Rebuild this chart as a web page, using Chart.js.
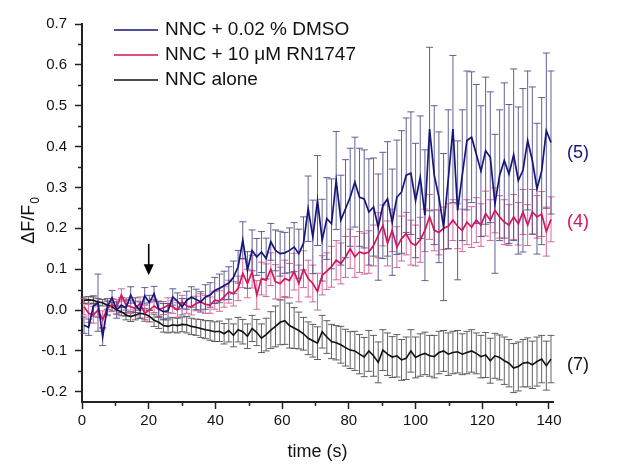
<!DOCTYPE html>
<html>
<head>
<meta charset="utf-8">
<script src="https://cdn.jsdelivr.net/npm/chart.js@4.4.1/dist/chart.umd.min.js"></script>
<style>
html, body { margin: 0; padding: 0; background: #fff; }
canvas { display: block; }
</style>
</head>
<body>
<canvas id="chart" width="617" height="467"></canvas>
<script>
// sample times (s)
const times = [
    0.6, 2.0, 3.4, 4.8, 6.2, 7.6, 9.0, 10.4, 11.8, 13.2,
    14.6, 16.0, 17.4, 18.8, 20.2, 21.6, 23.0, 24.4, 25.8, 27.2,
    28.6, 30.0, 31.4, 32.8, 34.2, 35.6, 37.0, 38.4, 39.8, 41.2,
    42.6, 44.0, 45.4, 46.8, 48.2, 49.6, 51.0, 52.4, 53.8, 55.2,
    56.6, 58.0, 59.4, 60.8, 62.2, 63.6, 65.0, 66.4, 67.8, 69.2,
    70.6, 72.0, 73.4, 74.8, 76.2, 77.6, 79.0, 80.4, 81.8, 83.2,
    84.6, 86.0, 87.4, 88.8, 90.2, 91.6, 93.0, 94.4, 95.8, 97.2,
    98.6, 100.0, 101.4, 102.8, 104.2, 105.6, 107.0, 108.4, 109.8, 111.2,
    112.6, 114.0, 115.4, 116.8, 118.2, 119.6, 121.0, 122.4, 123.8, 125.2,
    126.6, 128.0, 129.4, 130.8, 132.2, 133.6, 135.0, 136.4, 137.8, 139.2,
    140.6
];

// NNC + 0.02 % DMSO
const dmsoMean = [
    -0.037, -0.042, 0.010, 0.018, -0.065, 0.008, 0.030, 0.000, 0.012, 0.005,
    0.037, 0.012, 0.000, 0.035, 0.018, 0.040, 0.002, -0.004, -0.002, 0.032,
    0.022, 0.008, 0.024, 0.032, 0.026, 0.020, 0.032, 0.037, 0.048, 0.053,
    0.060, 0.066, 0.080, 0.106, 0.171, 0.098, 0.146, 0.130, 0.142, 0.126,
    0.167, 0.146, 0.138, 0.140, 0.146, 0.154, 0.138, 0.163, 0.248, 0.179,
    0.268, 0.171, 0.224, 0.211, 0.317, 0.220, 0.248, 0.276, 0.313, 0.276,
    0.272, 0.240, 0.252, 0.203, 0.256, 0.272, 0.215, 0.276, 0.289, 0.330,
    0.335, 0.268, 0.325, 0.232, 0.443, 0.330, 0.276, 0.203, 0.320, 0.443,
    0.244, 0.330, 0.415, 0.423, 0.382, 0.340, 0.390, 0.374, 0.260, 0.330,
    0.366, 0.333, 0.380, 0.317, 0.342, 0.415, 0.366, 0.297, 0.340, 0.439,
    0.410
];
const dmsoErr = [
    0.020, 0.020, 0.025, 0.070, 0.022, 0.020, 0.018, 0.020, 0.018, 0.020,
    0.020, 0.018, 0.020, 0.020, 0.018, 0.018, 0.020, 0.020, 0.018, 0.020,
    0.020, 0.020, 0.022, 0.025, 0.025, 0.025, 0.030, 0.030, 0.032, 0.035,
    0.035, 0.040, 0.040, 0.040, 0.045, 0.045, 0.050, 0.045, 0.050, 0.050,
    0.045, 0.050, 0.055, 0.050, 0.055, 0.060, 0.060, 0.065, 0.080, 0.090,
    0.110, 0.100, 0.100, 0.110, 0.120, 0.110, 0.120, 0.120, 0.110, 0.120,
    0.120, 0.130, 0.120, 0.130, 0.130, 0.140, 0.130, 0.140, 0.150, 0.140,
    0.150, 0.140, 0.150, 0.160, 0.200, 0.170, 0.160, 0.180, 0.170, 0.180,
    0.170, 0.160, 0.170, 0.160, 0.170, 0.160, 0.180, 0.160, 0.170, 0.160,
    0.190, 0.170, 0.210, 0.180, 0.200, 0.170, 0.180, 0.160, 0.180, 0.190,
    0.175
];

// NNC + 10 uM RN1747
const rnMean = [
    0.008, -0.008, -0.012, 0.000, -0.024, 0.004, 0.012, 0.008, 0.037, 0.012,
    0.008, 0.004, 0.016, -0.008, 0.000, 0.010, 0.002, 0.005, 0.012, 0.008,
    0.000, 0.020, 0.010, 0.008, 0.016, 0.020, 0.014, 0.012, 0.024, 0.022,
    0.032, 0.045, 0.040, 0.053, 0.090, 0.065, 0.094, 0.037, 0.077, 0.073,
    0.100, 0.069, 0.065, 0.077, 0.072, 0.094, 0.065, 0.100, 0.077, 0.065,
    0.045, 0.085, 0.095, 0.106, 0.122, 0.114, 0.130, 0.150, 0.130, 0.142,
    0.138, 0.142, 0.158, 0.183, 0.207, 0.163, 0.195, 0.154, 0.175, 0.187,
    0.165, 0.158, 0.172, 0.195, 0.228, 0.195, 0.190, 0.200, 0.205, 0.220,
    0.205, 0.195, 0.215, 0.203, 0.220, 0.208, 0.236, 0.220, 0.244, 0.228,
    0.215, 0.208, 0.228, 0.211, 0.240, 0.208, 0.240, 0.228, 0.235, 0.192,
    0.222
];
const rnErr = [
    0.020, 0.022, 0.020, 0.018, 0.022, 0.018, 0.016, 0.018, 0.015, 0.018,
    0.016, 0.018, 0.016, 0.020, 0.018, 0.016, 0.018, 0.016, 0.018, 0.016,
    0.018, 0.016, 0.018, 0.020, 0.018, 0.020, 0.022, 0.020, 0.022, 0.025,
    0.025, 0.028, 0.030, 0.030, 0.035, 0.035, 0.040, 0.035, 0.040, 0.040,
    0.040, 0.042, 0.040, 0.045, 0.042, 0.045, 0.045, 0.045, 0.045, 0.045,
    0.045, 0.048, 0.045, 0.050, 0.048, 0.050, 0.050, 0.048, 0.050, 0.050,
    0.050, 0.052, 0.050, 0.055, 0.050, 0.055, 0.052, 0.050, 0.055, 0.052,
    0.055, 0.050, 0.055, 0.052, 0.055, 0.050, 0.055, 0.052, 0.055, 0.050,
    0.055, 0.052, 0.055, 0.050, 0.055, 0.052, 0.055, 0.050, 0.055, 0.052,
    0.055, 0.050, 0.055, 0.052, 0.055, 0.050, 0.055, 0.052, 0.055, 0.060,
    0.055
];

// NNC alone
const aloneMean = [
    0.024, 0.025, 0.024, 0.020, 0.018, 0.012, 0.008, 0.000, -0.004, -0.012,
    -0.016, -0.012, -0.008, -0.010, -0.015, -0.025, -0.030, -0.038, -0.040, -0.036,
    -0.038, -0.035, -0.036, -0.040, -0.042, -0.045, -0.048, -0.050, -0.053, -0.052,
    -0.058, -0.050, -0.062, -0.048, -0.053, -0.064, -0.045, -0.055, -0.069, -0.060,
    -0.049, -0.040, -0.030, -0.026, -0.038, -0.044, -0.050, -0.058, -0.069, -0.075,
    -0.081, -0.053, -0.066, -0.077, -0.080, -0.085, -0.092, -0.098, -0.100, -0.108,
    -0.115, -0.100, -0.112, -0.128, -0.098, -0.108, -0.115, -0.112, -0.122, -0.118,
    -0.100, -0.116, -0.110, -0.106, -0.112, -0.114, -0.104, -0.100, -0.108, -0.104,
    -0.102, -0.108, -0.104, -0.100, -0.106, -0.114, -0.110, -0.124, -0.112, -0.116,
    -0.124, -0.130, -0.142, -0.138, -0.130, -0.128, -0.134, -0.126, -0.120, -0.136,
    -0.120
];
const aloneErr = [
    0.008, 0.008, 0.008, 0.008, 0.008, 0.010, 0.010, 0.010, 0.010, 0.012,
    0.012, 0.012, 0.012, 0.014, 0.014, 0.015, 0.015, 0.016, 0.016, 0.018,
    0.018, 0.018, 0.020, 0.020, 0.020, 0.022, 0.022, 0.024, 0.024, 0.025,
    0.025, 0.028, 0.028, 0.030, 0.030, 0.030, 0.032, 0.032, 0.035, 0.040,
    0.045, 0.050, 0.055, 0.058, 0.055, 0.050, 0.045, 0.040, 0.040, 0.040,
    0.040, 0.040, 0.040, 0.042, 0.042, 0.045, 0.045, 0.045, 0.048, 0.048,
    0.048, 0.050, 0.050, 0.050, 0.050, 0.052, 0.050, 0.052, 0.050, 0.052,
    0.052, 0.050, 0.052, 0.052, 0.050, 0.052, 0.052, 0.050, 0.052, 0.052,
    0.052, 0.050, 0.052, 0.052, 0.050, 0.052, 0.055, 0.055, 0.055, 0.055,
    0.058, 0.058, 0.060, 0.060, 0.058, 0.060, 0.058, 0.060, 0.058, 0.060,
    0.058
];

const seriesLabels = ["NNC + 0.02 % DMSO", "NNC + 10 \u03bcM RN1747", "NNC alone"];
const nLabels = ["(5)", "(4)", "(7)"];
const nLabelY = [0.385, 0.215, -0.134];

// axis ticks
const xTicks = [0, 20, 40, 60, 80, 100, 120, 140];
const xMinorTicks = [10, 30, 50, 70, 90, 110, 130];
const yTicks = [-0.2, -0.1, 0.0, 0.1, 0.2, 0.3, 0.4, 0.5, 0.6, 0.7];
const yMinorTicks = [-0.15, -0.05, 0.05, 0.15, 0.25, 0.35, 0.45, 0.55, 0.65];

const lineColors = ["#15157a", "#d3145e", "#111111"];
const barColors = ["rgba(70,70,130,0.85)", "rgba(205,80,135,0.85)", "rgba(70,70,70,0.85)"];

const FONT = "'Liberation Sans', Arial, sans-serif";

function points(mean) {
    return times.map((t, i) => ({ x: t, y: mean[i] }));
}

const errorBars = {
    id: "errorBars",
    beforeDatasetsDraw(chart) {
        const ctx = chart.ctx;
        const xs = chart.scales.x;
        const ys = chart.scales.y;
        for (let i = chart.data.datasets.length - 1; i >= 0; i--) {
            const ds = chart.data.datasets[i];
            ctx.save();
            ctx.strokeStyle = ds.barColor;
            ctx.lineWidth = 1;
            ds.data.forEach((p, j) => {
                const e = ds.errors[j];
                const px = xs.getPixelForValue(p.x);
                const top = ys.getPixelForValue(p.y + e);
                const bot = ys.getPixelForValue(p.y - e);
                ctx.beginPath();
                ctx.moveTo(px, top);
                ctx.lineTo(px, bot);
                ctx.moveTo(px - 3.5, top);
                ctx.lineTo(px + 3.5, top);
                ctx.moveTo(px - 3.5, bot);
                ctx.lineTo(px + 3.5, bot);
                ctx.stroke();
            });
            ctx.restore();
        }
    }
};

const decorations = {
    id: "decorations",
    afterDraw(chart) {
        const ctx = chart.ctx;
        const xs = chart.scales.x;
        const ys = chart.scales.y;
        const area = chart.chartArea;
        ctx.save();

        // minor ticks
        ctx.strokeStyle = "#222";
        ctx.lineWidth = 1.5;
        ctx.beginPath();
        yMinorTicks.forEach(v => {
            const py = Math.round(ys.getPixelForValue(v)) + 0.5;
            ctx.moveTo(area.left - 4, py);
            ctx.lineTo(area.left, py);
        });
        xMinorTicks.forEach(v => {
            const px = Math.round(xs.getPixelForValue(v)) + 0.5;
            ctx.moveTo(px, area.bottom);
            ctx.lineTo(px, area.bottom + 4);
        });
        ctx.stroke();

        // y axis title with subscript
        ctx.fillStyle = "#111";
        ctx.translate(34, 221);
        ctx.rotate(-Math.PI / 2);
        ctx.textBaseline = "alphabetic";
        ctx.textAlign = "left";
        ctx.font = "18px " + FONT;
        const main = "\u0394F/F";
        const w = ctx.measureText(main).width;
        ctx.font = "12px " + FONT;
        const w0 = ctx.measureText("0").width;
        const start = -(w + w0) / 2;
        ctx.font = "18px " + FONT;
        ctx.fillText(main, start, 0);
        ctx.font = "12px " + FONT;
        ctx.fillText("0", start + w + 1, 5);
        ctx.setTransform(1, 0, 0, 1, 0, 0);

        // legend
        ctx.font = "19px " + FONT;
        ctx.textBaseline = "middle";
        seriesLabels.forEach((label, i) => {
            const y = 30 + i * 25;
            ctx.strokeStyle = lineColors[i];
            ctx.lineWidth = 1.6;
            ctx.beginPath();
            ctx.moveTo(114, y);
            ctx.lineTo(158, y);
            ctx.stroke();
            ctx.fillStyle = "#111";
            ctx.fillText(label, 165, y);
        });

        // n labels on the right
        ctx.font = "18px " + FONT;
        nLabels.forEach((label, i) => {
            ctx.fillStyle = lineColors[i];
            ctx.fillText(label, area.right + 14, ys.getPixelForValue(nLabelY[i]));
        });

        // application arrow at 20 s
        const ax = xs.getPixelForValue(20);
        const yTop = ys.getPixelForValue(0.162);
        const yTip = ys.getPixelForValue(0.085);
        ctx.strokeStyle = "#000";
        ctx.fillStyle = "#000";
        ctx.lineWidth = 1.6;
        ctx.beginPath();
        ctx.moveTo(ax, yTop);
        ctx.lineTo(ax, yTip - 8);
        ctx.stroke();
        ctx.beginPath();
        ctx.moveTo(ax - 5, yTip - 11);
        ctx.lineTo(ax + 5, yTip - 11);
        ctx.lineTo(ax, yTip);
        ctx.closePath();
        ctx.fill();

        ctx.restore();
    }
};

new Chart(document.getElementById("chart"), {
    type: "line",
    data: {
        datasets: [
            { label: seriesLabels[0], data: points(dmsoMean), errors: dmsoErr, barColor: barColors[0],
              borderColor: lineColors[0], borderWidth: 1.7 },
            { label: seriesLabels[1], data: points(rnMean), errors: rnErr, barColor: barColors[1],
              borderColor: lineColors[1], borderWidth: 1.7 },
            { label: seriesLabels[2], data: points(aloneMean), errors: aloneErr, barColor: barColors[2],
              borderColor: lineColors[2], borderWidth: 1.6 }
        ]
    },
    options: {
        responsive: false,
        animation: false,
        devicePixelRatio: 1,
        elements: { point: { radius: 0 }, line: { tension: 0 } },
        layout: { padding: { top: 24, right: 64, bottom: 0, left: 0 } },
        plugins: { legend: { display: false }, tooltip: { enabled: false } },
        scales: {
            x: {
                type: "linear",
                min: 0,
                max: 141.2,
                afterFit(scale) { scale.height = 65; },
                afterBuildTicks(scale) { scale.ticks = xTicks.map(v => ({ value: v })); },
                border: { display: true, color: "#222", width: 2 },
                grid: { drawOnChartArea: false, drawTicks: true, tickLength: 7, tickColor: "#222", tickWidth: 1.5 },
                ticks: { padding: 3, color: "#111", font: { family: FONT, size: 15 }, maxRotation: 0 },
                title: { display: true, text: "time (s)", color: "#111",
                         font: { family: FONT, size: 18 }, padding: { top: 0, bottom: 4 } }
            },
            y: {
                min: -0.225,
                max: 0.7,
                afterFit(scale) { scale.width = 82; },
                afterBuildTicks(scale) { scale.ticks = yTicks.map(v => ({ value: v })); },
                border: { display: true, color: "#222", width: 2 },
                grid: { drawOnChartArea: false, drawTicks: true, tickLength: 7, tickColor: "#222", tickWidth: 1.5 },
                ticks: {
                    padding: 8,
                    color: "#111",
                    font: { family: FONT, size: 15 },
                    callback: v => v.toFixed(1)
                }
            }
        }
    },
    plugins: [errorBars, decorations]
});
</script>
</body>
</html>
